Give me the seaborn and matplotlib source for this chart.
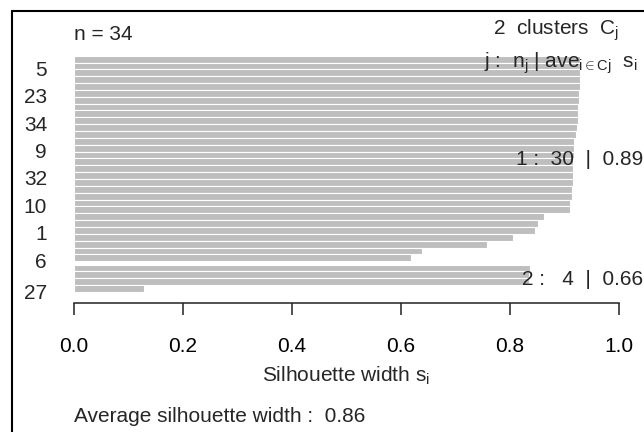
import numpy as np
import pandas as pd
import matplotlib
matplotlib.use("Agg")
import matplotlib.pyplot as plt
from matplotlib.lines import Line2D
import seaborn as sns

# silhouette widths, top to bottom as drawn (cluster 1 first)
clus1_width = [0.929, 0.929, 0.928, 0.928, 0.928, 0.927, 0.926, 0.925, 0.925, 0.924,
               0.923, 0.921, 0.918, 0.918, 0.917, 0.916, 0.915, 0.915, 0.915, 0.914,
               0.913, 0.911, 0.910, 0.862, 0.852, 0.845, 0.806, 0.758, 0.638, 0.619]
clus2_width = [0.836, 0.835, 0.834, 0.128]

# observation names that R had room to print (every 4th bar from the bottom)
label_bar = [1, 5, 9, 13, 17, 21, 25, 29, 33]
label_text = ["5", "23", "34", "9", "32", "10", "1", "6", "27"]

sil = np.array(clus1_width + clus2_width)
cluster = np.array([1] * len(clus1_width) + [2] * len(clus2_width))
n = len(sil)

# bar positions: unit height, half a bar of space between clusters
pos = np.arange(n) + 0.5 + 0.5 * (cluster - 1)
df = pd.DataFrame({"width": sil, "pos": pos, "cluster": cluster})

sns.set_style("white")
plt.rcParams["font.family"] = ["Liberation Sans", "DejaVu Sans"]
plt.rcParams["mathtext.fontset"] = "custom"
plt.rcParams["mathtext.rm"] = "Liberation Sans"
plt.rcParams["mathtext.it"] = "Liberation Sans:italic"
fs = 15

W, H = 644, 432
fig = plt.figure(figsize=(W / 100, H / 100), dpi=100)
ax = fig.add_axes([74 / W, 1 - 303 / H, 545 / W, 263 / H])

sns.barplot(data=df, x="width", y="pos", orient="y", native_scale=True,
            color="#bebebe", saturation=1, edgecolor="white", linewidth=0.8,
            errorbar=None, width=1, ax=ax)

ax.set_xlim(0, 1)
ax.set_ylim(36.1, -2.29)
for s in ["top", "right", "left"]:
    ax.spines[s].set_visible(False)
ax.spines["bottom"].set_bounds(0, 1)
ax.spines["bottom"].set_linewidth(1.1)
ax.spines["bottom"].set_color("#222222")

ax.set_xticks(np.arange(0, 1.01, 0.2))
ax.set_xticklabels([f"{v:.1f}" for v in np.arange(0, 1.01, 0.2)], fontsize=fs)
ax.tick_params(axis="x", bottom=True, direction="out", length=8.6, width=1.1,
               pad=16, colors="#222222", labelcolor="black")

ax.set_yticks([pos[i] + 0.35 for i in label_bar])
ax.set_yticklabels(label_text, fontsize=fs)
ax.tick_params(axis="y", left=False, length=0, pad=19.4)

ax.set_ylabel("")
ax.set_xlabel(r"Silhouette width s$_\mathrm{i}$", fontsize=fs)
ax.xaxis.set_label_coords(0.5, -(382 - 303) / 263)
ax.xaxis.label.set_va("baseline")

# header texts
ax.text(0, 1, f"n = {n}", transform=ax.transAxes, ha="left", va="baseline", fontsize=fs)
k = len(np.unique(cluster))
fig.text(619 / W, 1 - 35 / H, rf"{k}  clusters  C$_\mathrm{{j}}$", ha="right",
         va="baseline", fontsize=fs)
fig.text(638 / W, 1 - 68 / H,
         r"j :  n$_\mathrm{j}$ | ave$_{\mathrm{i\in Cj}}$  s$_\mathrm{i}$",
         ha="right", va="baseline", fontsize=fs)

# cluster stats
for j in np.unique(cluster):
    sub = df[df["cluster"] == j]
    yj = sub["pos"].mean()
    txt = f"{j} :  {len(sub):>2d}  |  {sub['width'].mean():.2f}"
    ax.text(1.044, yj + 1.0, txt, ha="right", va="baseline", fontsize=fs, clip_on=False)

fig.text(74 / W, 1 - 422 / H, f"Average silhouette width :  {sil.mean():.2f}",
         ha="left", va="baseline", fontsize=fs)

# frame of the screenshot
fig.add_artist(Line2D([12 / W, 12 / W], [0, 1 - 10.8 / H], color="black", lw=1.5))
fig.add_artist(Line2D([12 / W, 1], [1 - 10.8 / H, 1 - 10.8 / H], color="black", lw=1.5))

fig.savefig("out.png", dpi=100)
